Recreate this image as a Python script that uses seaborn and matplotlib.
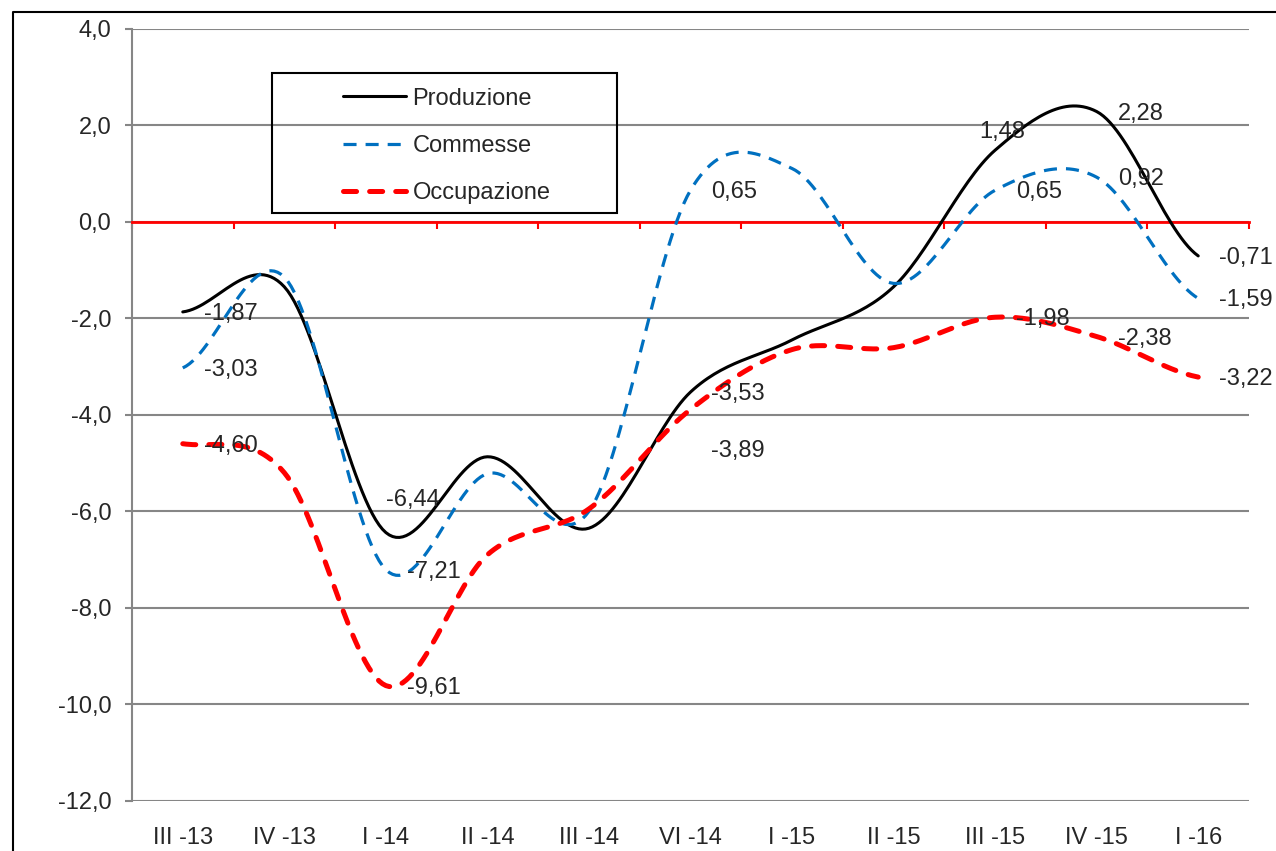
import numpy as np
import matplotlib
matplotlib.use('Agg')
import matplotlib.pyplot as plt
import seaborn as sns
from matplotlib.lines import Line2D
from matplotlib.patches import Rectangle
from matplotlib.ticker import FuncFormatter

sns.set_style('white')
plt.rcParams['font.family'] = ['Liberation Sans', 'DejaVu Sans']
plt.rcParams['lines.scale_dashes'] = False

# dati (variazioni %)
trimestri = ['III -13', 'IV -13', 'I -14', 'II -14', 'III -14', 'VI -14',
             'I -15', 'II -15', 'III -15', 'IV -15', 'I -16']
produzione = [-1.87, -1.35, -6.44, -4.87, -6.35, -3.53, -2.45, -1.35, 1.48, 2.28, -0.71]
commesse = [-3.03, -1.15, -7.21, -5.22, -6.00, 0.65, 1.10, -1.28, 0.65, 0.92, -1.59]
occupazione = [-4.60, -5.20, -9.61, -6.90, -5.95, -3.89, -2.65, -2.61, -1.98, -2.38, -3.22]

# punti con etichetta nel grafico originale
etichettati = [0, 2, 5, 8, 9, 10]

GRIGIO = '#868686'
FS = 17


def liscia(y, n=30):
    # curva "smussata" tipo Excel (Catmull-Rom) tra i punti
    y = np.asarray(y, float)
    ext = np.r_[y[0], y, y[-1]]
    xs, ys = [], []
    t = np.linspace(0, 1, n, endpoint=False)
    for i in range(len(y) - 1):
        m0 = (ext[i + 2] - ext[i]) / 2
        m1 = (ext[i + 3] - ext[i + 1]) / 2
        h00 = 2 * t**3 - 3 * t**2 + 1
        h10 = t**3 - 2 * t**2 + t
        h01 = -2 * t**3 + 3 * t**2
        h11 = t**3 - t**2
        xs.append(i + t)
        ys.append(h00 * y[i] + h10 * m0 + h01 * y[i + 1] + h11 * m1)
    xs.append([len(y) - 1])
    ys.append([y[-1]])
    return np.concatenate(xs), np.concatenate(ys)


def virgola(v, dec=2):
    return f'{v:.{dec}f}'.replace('.', ',')


fig = plt.figure(figsize=(12.76, 8.51), dpi=100)
W, H = 1276, 851
ax = fig.add_axes([132 / W, 1 - 801 / H, (1249 - 132) / W, (801 - 28.5) / H])

serie = [
    ('Produzione', produzione, dict(color='black', lw=2.2, linestyle='-')),
    ('Commesse', commesse, dict(color='#0070C0', lw=2.3, linestyle=(0, (9.4, 6.5)),
                                dash_capstyle='butt')),
    ('Occupazione', occupazione, dict(color='#FF0000', lw=3.6, linestyle=(0, (9.4, 9.4)),
                                      dash_capstyle='round')),
]
for nome, valori, stile in serie:
    xs, ys = liscia(valori)
    sns.lineplot(x=xs, y=ys, ax=ax, sort=False, errorbar=None, zorder=3, label=nome, **stile)

# etichette dei dati
spost = {('Produzione', 2): (0, 33), ('Produzione', 8): (-16, 18), ('Occupazione', 5): (21, -42)}
for nome, valori, stile in serie:
    for i in etichettati:
        dx, dy = spost.get((nome, i), (21, -2))
        ax.annotate(virgola(valori[i]), xy=(i, valori[i]), xytext=(dx, dy),
                    textcoords='offset pixels', ha='left', va='center', fontsize=FS,
                    annotation_clip=False, zorder=4)

# assi
ax.set_xlim(-0.5, len(trimestri) - 0.5)
ax.set_ylim(-12, 4)
ax.set_yticks(np.arange(-12, 4.1, 2))
ax.yaxis.set_major_formatter(FuncFormatter(lambda v, p: virgola(v, 1)))
ax.grid(axis='y', color=GRIGIO, lw=1.5)
ax.grid(axis='x', visible=False)
ax.set_axisbelow(True)
ax.set_xlabel('')
ax.set_ylabel('')

for s in ['top', 'right']:
    ax.spines[s].set_visible(False)
ax.spines['left'].set_color(GRIGIO)
ax.spines['left'].set_linewidth(1.5)
ax.spines['bottom'].set_position(('data', 0))
ax.spines['bottom'].set_color('#FF0000')
ax.spines['bottom'].set_linewidth(2)
ax.spines['bottom'].set_zorder(2.5)

ax.set_xticks(np.arange(-0.5, len(trimestri), 1))
ax.tick_params(axis='x', direction='out', length=5, width=1.5, color='#FF0000',
               labelbottom=False, bottom=True)
ax.tick_params(axis='y', direction='out', length=5, width=1.5, color=GRIGIO,
               labelsize=FS, pad=10, left=True)

cat = ax.secondary_xaxis(0)
cat.set_xticks(range(len(trimestri)))
cat.set_xticklabels(trimestri)
cat.tick_params(length=0, labelsize=FS, pad=18.5)
cat.spines['bottom'].set_visible(False)

# legenda
h = ax.get_lines()[:3]
ax.legend(h, [s[0] for s in serie], loc='center',
          bbox_to_anchor=(447 / W, 1 - 146 / H), bbox_transform=fig.transFigure,
          frameon=False, fontsize=FS, handlelength=2.63, handletextpad=0.3,
          labelspacing=1.07)
fig.add_artist(Rectangle((272 / W, 1 - 213 / H), (617 - 272) / W, (213 - 73) / H,
                         transform=fig.transFigure, fill=False, ec='black', lw=1.5))

# cornice del grafico
fig.add_artist(Line2D([13 / W, 13 / W, 1.1], [-0.1, 1 - 12 / H, 1 - 12 / H],
                      transform=fig.transFigure, color='black', lw=1.5))

fig.savefig('out.png', dpi=100)
